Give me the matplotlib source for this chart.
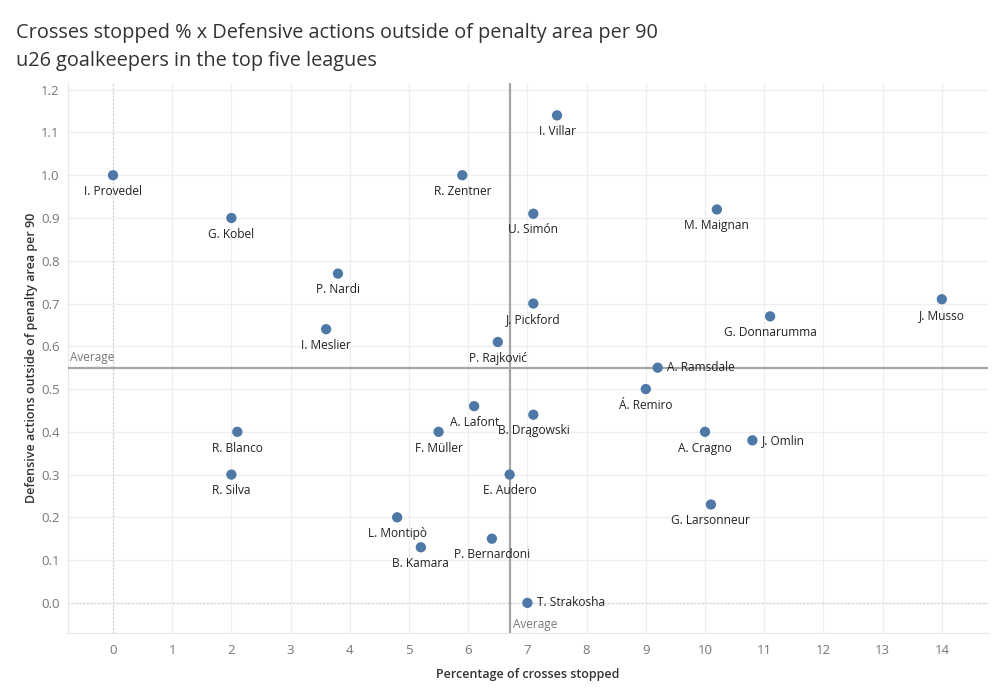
import matplotlib.pyplot as plt
import numpy as np

players = ["I. Villar", "I. Provedel", "R. Zentner", "U. Simón", "M. Maignan", "G. Kobel",
           "P. Nardi", "J. Pickford", "J. Musso", "G. Donnarumma", "I. Meslier", "P. Rajković",
           "A. Ramsdale", "Á. Remiro", "A. Lafont", "B. Drągowski", "R. Blanco", "F. Müller",
           "A. Cragno", "J. Omlin", "R. Silva", "E. Audero", "G. Larsonneur", "L. Montipò",
           "P. Bernardoni", "B. Kamara", "T. Strakosha"]
crosses_stopped = [7.5, 0.0, 5.9, 7.1, 10.2, 2.0,
                   3.8, 7.1, 14.0, 11.1, 3.6, 6.5,
                   9.2, 9.0, 6.1, 7.1, 2.1, 5.5,
                   10.0, 10.8, 2.0, 6.7, 10.1, 4.8,
                   6.4, 5.2, 7.0]
def_actions = [1.14, 1.00, 1.00, 0.91, 0.92, 0.90,
               0.77, 0.70, 0.71, 0.67, 0.64, 0.61,
               0.55, 0.50, 0.46, 0.44, 0.40, 0.40,
               0.40, 0.38, 0.30, 0.30, 0.23, 0.20,
               0.15, 0.13, 0.00]
right_labels = ["A. Ramsdale", "J. Omlin", "T. Strakosha"]

AVG_X = 6.7
AVG_Y = 0.55

plt.rcParams['font.family'] = ['Open Sans', 'DejaVu Sans']

fig = plt.figure(figsize=(10, 7), dpi=100)
ax = fig.add_axes([0.068, 0.096, 0.92, 0.785])

ax.scatter(crosses_stopped, def_actions, s=55, color="#4e79a7", zorder=4, edgecolors="none")

for name, x, y in zip(players, crosses_stopped, def_actions):
    if name in right_labels:
        ax.annotate(name, (x, y), xytext=(7, 0), textcoords="offset points",
                    ha="left", va="center", fontsize=8.6, color="#222222", zorder=5)
    else:
        ax.annotate(name, (x, y), xytext=(0, -7), textcoords="offset points",
                    ha="center", va="top", fontsize=8.6, color="#222222", zorder=5)

ax.axvline(AVG_X, color="#a5a5a5", lw=1.6, zorder=3)
ax.axhline(AVG_Y, color="#a5a5a5", lw=1.6, zorder=3)
ax.text(-0.72, AVG_Y + 0.008, "Average", fontsize=8.5, color="#777777", va="bottom", ha="left")
ax.text(AVG_X + 0.05, -0.05, "Average", fontsize=8.5, color="#777777", va="center", ha="left")

ax.set_xlim(-0.76, 14.78)
ax.set_ylim(-0.07, 1.215)
ax.set_xticks(np.arange(0, 15, 1))
ax.set_yticks(np.round(np.arange(0, 1.21, 0.1), 1))
ax.set_yticklabels([f"{v:.1f}" for v in np.arange(0, 1.21, 0.1)])

ax.grid(True, color="#eeeeee", lw=0.9, zorder=0)
ax.axvline(0, color="#cccccc", lw=0.9, ls=(0, (1, 2)), zorder=1)
ax.axhline(0, color="#cccccc", lw=0.9, ls=(0, (1, 2)), zorder=1)
ax.set_axisbelow(True)

for side in ["top", "right"]:
    ax.spines[side].set_visible(False)
for side in ["left", "bottom"]:
    ax.spines[side].set_color("#e6e6e6")
ax.tick_params(length=0, labelsize=9.5, labelcolor="#777777", pad=8)
ax.tick_params(axis="y", pad=6)

ax.set_xlabel("Percentage of crosses stopped", fontsize=9, color="#333333",
              fontweight="semibold", labelpad=8)
ax.set_ylabel("Defensive actions outside of penalty area per 90", fontsize=9, color="#333333",
              fontweight="semibold", labelpad=2)

fig.text(0.016, 0.953, "Crosses stopped % x Defensive actions outside of penalty area per 90",
         fontsize=14.3, color="#333333", va="center", ha="left")
fig.text(0.016, 0.913, "u26 goalkeepers in the top five leagues",
         fontsize=14.3, color="#333333", va="center", ha="left")

fig.savefig("out.png", dpi=100)
